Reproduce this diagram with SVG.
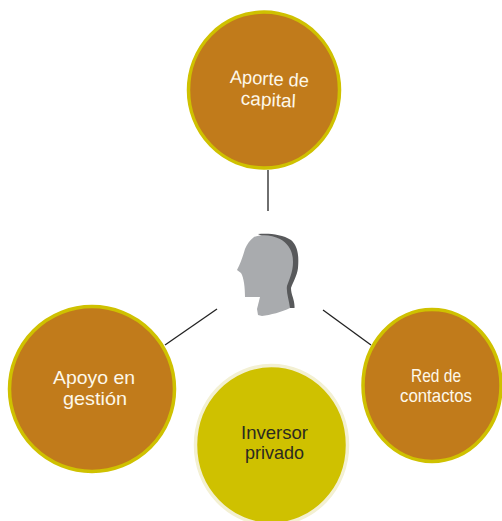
<svg xmlns="http://www.w3.org/2000/svg" width="502" height="521" viewBox="0 0 502 521">
<style>
.c{fill:#c17b1b;stroke:#cfc100;stroke-width:3.5}
.t{font-family:"Liberation Sans",Arial,sans-serif;font-size:18.500px;text-anchor:middle;fill:#fdf8ea}
.l{stroke:#222;stroke-width:1.3;fill:none}
</style>
<rect width="502" height="521" fill="#fff"/>
<g id="connectors">
<path class="l" d="M268 170V211"/>
<path class="l" d="M217 309L165 345"/>
<path class="l" d="M323 310L371 345"/>
</g>
<g id="node-aporte">
<ellipse class="c" cx="264" cy="90" rx="75.500" ry="78"/>
<g transform="rotate(3 269 88)">
<text class="t" x="269" y="85" textLength="79" lengthAdjust="spacingAndGlyphs">Aporte de</text>
<text class="t" x="269" y="106" textLength="55" lengthAdjust="spacingAndGlyphs">capital</text>
</g>
</g>
<g id="node-apoyo">
<ellipse class="c" cx="92" cy="389" rx="82.500" ry="82.500"/>
<text class="t" x="94" y="384" textLength="82" lengthAdjust="spacingAndGlyphs">Apoyo en</text>
<text class="t" x="95" y="405" textLength="64" lengthAdjust="spacingAndGlyphs">gestión</text>
</g>
<g id="node-red">
<ellipse class="c" cx="432" cy="385.500" rx="69" ry="76"/>
<text class="t" x="436" y="381.500" textLength="50" lengthAdjust="spacingAndGlyphs">Red de</text>
<text class="t" x="436" y="401.500" textLength="72" lengthAdjust="spacingAndGlyphs">contactos</text>
</g>
<g id="node-inversor">
<ellipse cx="271.500" cy="445" rx="76" ry="79.500" fill="#cfc100" stroke="#f3f0d2" stroke-width="3.500"/>
<text class="t" x="274.500" y="439" textLength="67" lengthAdjust="spacingAndGlyphs" style="fill:#2b2a20">Inversor</text>
<text class="t" x="274.500" y="458.500" textLength="59" lengthAdjust="spacingAndGlyphs" style="fill:#2b2a20">privado</text>
</g>
<g id="head">
<path fill="#58595b" d="M258 234C268 233 282 234 291 240C298 246 299 256 298 268C297 276 293 282 291 288C291 295 295 300 294.500 308L288 308L280 290L262 236Z"/>
<path fill="#a9abae" d="M254 237C262 234 272 235 280 239C289 244 293 252 293 262C293 272 289 280 287 286C286 292 289 300 290 308C282 312 270 315 262 316L258 315L257 309L260 297L245 297C245 288 244 278 241 273L237 270C241 262 243 256 245 249C247 244 250 240 254 237Z"/>
</g>
</svg>
